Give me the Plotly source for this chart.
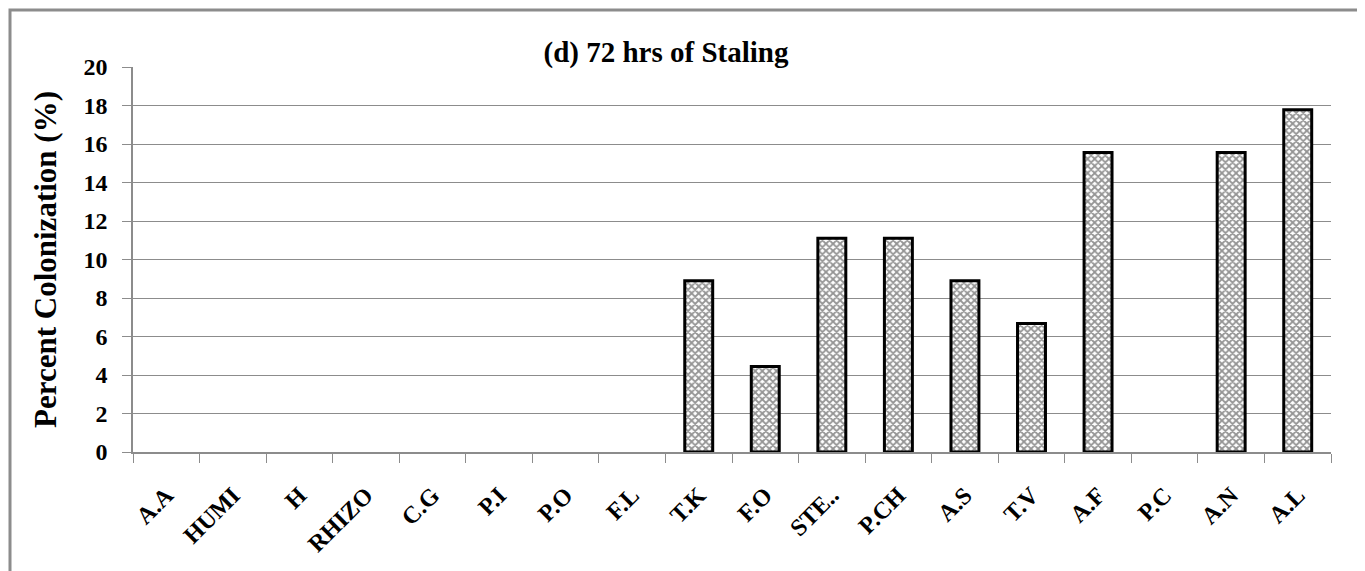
import plotly.graph_objects as go

categories = ["A.A", "HUMI", "H", "RHIZO", "C.G", "P.I", "P.O", "F.L", "T.K", "F.O",
              "STE..", "P.CH", "A.S", "T.V", "A.F", "P.C", "A.N", "A.L"]
values = [0, 0, 0, 0, 0, 0, 0, 0, 8.89, 4.44, 11.11, 11.11, 8.89, 6.67, 15.56, 0, 15.56, 17.78]
y_ticks = [0, 2, 4, 6, 8, 10, 12, 14, 16, 18, 20]

OFF = 8  # page body margin
W, H = 1365 - OFF, 571 - OFF
L, R, T, B = 133 - OFF, 1331 - OFF, 67 - OFF, 452 - OFF

fig = go.Figure()
fig.add_trace(go.Bar(
    x=categories, y=[v if v > 0 else None for v in values], width=0.42,
    marker=dict(color="white", line=dict(color="black", width=3),
                pattern=dict(shape="x", fgcolor="#2a2a2a", bgcolor="white", size=5, solidity=0.6)),
))

font = "Liberation Serif"
fig.update_layout(
    width=W, height=H,
    margin=dict(l=L, r=W - R, t=T, b=H - B, pad=0),
    paper_bgcolor="white", plot_bgcolor="white",
    showlegend=False,
    title=dict(text="<b>(d) 72 hrs of Staling</b>", x=(666 - OFF) / W, xanchor="center",
               y=1 - (52 - OFF) / H, yanchor="middle", font=dict(family=font, size=29, color="black")),
    font=dict(family=font, color="black"),
)
fig.update_yaxes(
    range=[0, 20], tickvals=y_ticks, ticktext=[f"<b>{v}</b>" for v in y_ticks],
    tickfont=dict(family=font, size=24, color="black"),
    showgrid=True, gridcolor="#8c8c8c", gridwidth=1,
    showline=True, linecolor="#8c8c8c", linewidth=1.5,
    ticks="outside", ticklen=9, tickcolor="#8c8c8c",
    ticklabelstandoff=10,
    zeroline=False,
    title=dict(text="<b>Percent Colonization (%)</b>", font=dict(family=font, size=31, color="black"), standoff=18),
)
fig.update_xaxes(
    tickangle=-45, tickmode="array", tickvals=categories,
    ticktext=[f"<b>{c}</b>" for c in categories],
    tickfont=dict(family=font, size=24, color="black"),
    showline=True, linecolor="#8c8c8c", linewidth=1.5,
    ticks="outside", ticklen=9, tickcolor="#8c8c8c", tickson="boundaries",
    ticklabelstandoff=18,
    showgrid=False,
)

pw, ph = R - L, B - T
def px(x): return (x - OFF - L) / pw
def py(y): return (B - (y - OFF)) / ph

fig.add_shape(type="rect", xref="paper", yref="paper",
              x0=px(10), x1=px(1360), y0=py(10), y1=py(580),
              line=dict(color="#8c8c8c", width=3), fillcolor="rgba(0,0,0,0)", layer="below")

fig.write_html("out.html")
